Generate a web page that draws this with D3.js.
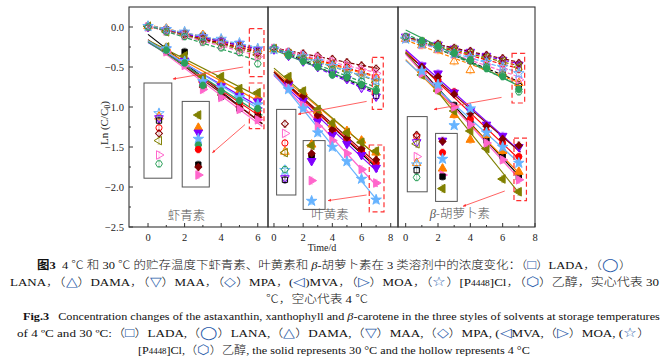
<!DOCTYPE html>
<html><head><meta charset="utf-8">
<script src="https://cdn.jsdelivr.net/npm/d3@7"></script>
<style>body{margin:0;background:#fff;} svg{display:block}</style>
</head><body><svg id="c" width="668" height="359"></svg>
<script>
// ---------------- DATA ----------------
const solvents = ["LADA","LANA","DAMA","MAA","MPA","MVA","MOA","[P4448]Cl","乙醇"];
const pigments = ["虾青素","叶黄素","β-胡萝卜素"];
const yTicks = [0, -0.5, -1, -1.5, -2, -2.5];
const yMinorTicks = [-0.25, -0.75, -1.25, -1.75, -2.25];
const xTicksP1 = [0, 2, 4, 6];
const xTicksP23 = [0, 2, 4, 6, 8];
const daysColdP1 = [0, 1, 2, 3, 4, 5, 6];
const daysWarmP1 = [1, 2, 3, 4, 5, 6];
const daysCold = [0, 1, 2, 3, 4, 5, 6, 7];
const daysWarm = [1, 2, 3, 4, 5, 6, 7];

// rows in solvent order: LADA, LANA, DAMA, MAA, MPA, MVA, MOA, [P4448]Cl, 乙醇
// astaxanthin 4 °C (hollow)
const astaCold = [
  [0.01,-0.03,-0.08,-0.11,-0.17,-0.23,-0.30],
  [0.00,-0.05,-0.09,-0.14,-0.19,-0.24,-0.32],
  [0.01,-0.02,-0.07,-0.10,-0.16,-0.22,-0.28],
  [0.00,-0.04,-0.08,-0.13,-0.18,-0.21,-0.29],
  [0.00,-0.04,-0.10,-0.15,-0.20,-0.25,-0.33],
  [0.01,-0.06,-0.09,-0.16,-0.21,-0.27,-0.35],
  [0.00,-0.05,-0.11,-0.18,-0.23,-0.29,-0.37],
  [0.01,-0.03,-0.06,-0.12,-0.15,-0.20,-0.27],
  [0.00,-0.06,-0.12,-0.19,-0.26,-0.32,-0.46]
];
// astaxanthin 30 °C (solid)
const astaWarm = [
  [-0.30,-0.31,-0.72,-0.87,-1.02,-1.10],
  [-0.30,-0.44,-0.72,-0.82,-0.95,-1.05],
  [-0.26,-0.40,-0.66,-0.68,-0.80,-0.88],
  [-0.28,-0.42,-0.70,-0.74,-0.86,-0.93],
  [-0.29,-0.46,-0.75,-0.85,-1.00,-1.12],
  [-0.25,-0.36,-0.62,-0.62,-0.77,-0.82],
  [-0.31,-0.48,-0.78,-0.88,-1.03,-1.16],
  [-0.27,-0.43,-0.68,-0.76,-0.88,-0.97],
  [-0.29,-0.45,-0.73,-0.80,-0.92,-1.02]
];
// xanthophyll 4 °C
const xanCold = [
  [-0.28,-0.35,-0.41,-0.48,-0.56,-0.64,-0.73,-0.86],
  [-0.27,-0.31,-0.36,-0.40,-0.46,-0.50,-0.56,-0.63],
  [-0.28,-0.33,-0.36,-0.42,-0.47,-0.52,-0.57,-0.64],
  [-0.28,-0.36,-0.43,-0.50,-0.58,-0.65,-0.76,-0.87],
  [-0.26,-0.31,-0.33,-0.36,-0.40,-0.44,-0.48,-0.52],
  [-0.27,-0.33,-0.38,-0.43,-0.48,-0.55,-0.60,-0.69],
  [-0.27,-0.32,-0.35,-0.38,-0.43,-0.48,-0.53,-0.58],
  [-0.28,-0.33,-0.37,-0.43,-0.49,-0.54,-0.61,-0.67],
  [-0.27,-0.34,-0.40,-0.46,-0.53,-0.60,-0.68,-0.78]
];
// xanthophyll 30 °C
const xanWarm = [
  [-0.68,-0.88,-1.14,-1.31,-1.42,-1.56,-1.72],
  [-0.70,-0.90,-1.12,-1.30,-1.40,-1.55,-1.70],
  [-0.65,-0.82,-1.05,-1.22,-1.30,-1.42,-1.57],
  [-0.72,-0.92,-1.18,-1.35,-1.46,-1.60,-1.76],
  [-0.68,-0.86,-1.10,-1.28,-1.38,-1.52,-1.66],
  [-0.62,-0.80,-1.03,-1.20,-1.32,-1.44,-1.55],
  [-0.76,-0.98,-1.24,-1.42,-1.58,-1.78,-1.95],
  [-0.78,-1.02,-1.32,-1.50,-1.68,-1.90,-2.16],
  [-0.36,-0.43,-0.50,-0.60,-0.63,-0.72,-0.80]
];
// beta-carotene 4 °C
const carCold = [
  [-0.13,-0.21,-0.27,-0.34,-0.42,-0.49,-0.57,-0.74],
  [-0.14,-0.20,-0.24,-0.30,-0.35,-0.41,-0.46,-0.53],
  [-0.15,-0.23,-0.29,-0.43,-0.54,-0.50,-0.58,-0.70],
  [-0.12,-0.19,-0.22,-0.27,-0.31,-0.36,-0.41,-0.47],
  [-0.13,-0.18,-0.21,-0.26,-0.30,-0.35,-0.39,-0.45],
  [-0.14,-0.19,-0.23,-0.28,-0.33,-0.38,-0.43,-0.50],
  [-0.14,-0.22,-0.27,-0.34,-0.40,-0.47,-0.53,-0.66],
  [-0.15,-0.21,-0.26,-0.33,-0.38,-0.44,-0.50,-0.58],
  [-0.12,-0.20,-0.26,-0.33,-0.42,-0.50,-0.60,-0.81]
];
// beta-carotene 30 °C
const carWarm = [
  [-0.56,-0.76,-0.98,-1.20,-1.42,-1.62,-1.88],
  [-0.52,-0.66,-0.81,-1.15,-1.30,-1.45,-1.62],
  [-0.54,-0.75,-1.10,-1.41,-1.35,-1.55,-1.81],
  [-0.48,-0.58,-0.82,-1.05,-1.22,-1.36,-1.50],
  [-0.50,-0.62,-0.84,-1.08,-1.24,-1.40,-1.48],
  [-0.60,-0.80,-1.05,-1.30,-1.52,-1.90,-2.06],
  [-0.58,-0.78,-1.00,-1.22,-1.45,-1.66,-1.91],
  [-0.55,-0.72,-1.23,-1.02,-1.32,-1.50,-1.70],
  [-0.17,-0.24,-0.32,-0.41,-0.52,-0.62,-0.78]
];
// magnified inset views: [solvent index, displayed value]
const insetColdP1 = [[7,-1.08],[2,-1.12],[3,-1.14],[0,-1.17],[1,-1.26],[4,-1.33],[5,-1.42],[6,-1.60],[8,-1.71]];
const insetWarmP1 = [[5,-1.10],[2,-1.26],[3,-1.32],[7,-1.40],[8,-1.475],[1,-1.53],[0,-1.72],[4,-1.75],[6,-1.85]];
const insetColdP2 = [[4,-1.21],[6,-1.33],[1,-1.45],[2,-1.56],[5,-1.57],[7,-1.79],[8,-1.78],[3,-1.89],[0,-1.91]];
const insetWarmP2 = [[2,-1.47],[5,-1.48],[1,-1.60],[0,-1.62],[4,-1.58],[3,-1.675],[6,-1.92],[7,-2.175]];
const insetColdP3 = [[1,-1.37],[4,-1.35],[3,-1.44],[5,-1.46],[6,-1.62],[2,-1.70],[7,-1.72],[0,-1.79],[8,-1.88]];
const insetWarmP3 = [[3,-1.42],[4,-1.43],[1,-1.57],[7,-1.65],[2,-1.77],[6,-1.85],[0,-1.87],[5,-2.02]];

// ---------------- STYLE / LAYOUT ----------------
const colors = ["#000000","#ff0000","#ff8000","#8000ff","#800000","#808000","#ff66cc","#66b3ff","#2ca05a"];
const shapes = ["square","circle","up","down","diamond","left","right","star","hexagon"];
const errHalf = 0.045;
const panelsLayout = [
  {x0:129, x1:268, domain:[-1.04, 6.56], fitEnd:[6.0, 6.25], ticks:xTicksP1, minor:[1,3,5],
   cold:astaCold, warm:astaWarm, dCold:daysColdP1, dWarm:daysWarmP1,
   insets:[{box:[-0.22,1.30,-0.70,-1.89], x:0.6, filled:false, items:insetColdP1},
           {box:[1.87,3.35,-0.93,-2.00], x:2.75, filled:true, items:insetWarmP1}],
   red:[[5.54,6.34,-0.02,-0.62],[5.54,6.34,-0.70,-1.27]],
   arrows:[[5.2,-0.50,1.38,-0.65],[5.3,-1.22,3.53,-1.57]],
   label:[2.1,-2.41]},
  {x0:268, x1:398, domain:[-0.41, 8.5], fitEnd:[7.1, 7.1], ticks:xTicksP23, minor:[1,3,5,7],
   cold:xanCold, warm:xanWarm, dCold:daysCold, dWarm:daysWarm,
   insets:[{box:[0.18,1.50,-1.03,-2.10], x:0.75, filled:false, items:insetColdP2},
           {box:[2.00,3.50,-1.42,-2.28], x:2.58, filled:true, items:insetWarmP2}],
   red:[[6.74,7.49,-0.38,-1.03],[6.53,7.54,-1.475,-2.31]],
   arrows:[[6.35,-0.93,1.67,-1.09],[6.35,-2.10,3.72,-2.17]],
   label:[3.84,-2.40]},
  {x0:398, x1:535, domain:[-0.475, 8.0], fitEnd:[7.1, 7.1], ticks:xTicksP23, minor:[1,3,5,7],
   cold:carCold, warm:carWarm, dCold:daysCold, dWarm:daysWarm,
   insets:[{box:[0.10,1.33,-1.12,-2.06], x:0.68, filled:false, items:insetColdP3},
           {box:[1.85,3.19,-1.33,-2.18], x:2.28, filled:true, items:insetWarmP3}],
   red:[[6.58,7.36,-0.33,-0.95],[6.70,7.47,-1.39,-2.17]],
   arrows:[[5.93,-0.88,1.77,-1.03],[6.13,-2.05,3.56,-2.24]],
   label:[3.35,-2.39]}
];

const svg = d3.select("#c");
const y = d3.scaleLinear().domain([-2.5, 0.25]).range([227, 7]);
const serif = "'Liberation Serif','Noto Sans CJK SC',serif";

svg.append("defs").append("marker").attr("id","ah").attr("viewBox","0 0 10 10")
  .attr("refX",8).attr("refY",5).attr("markerWidth",4).attr("markerHeight",4).attr("orient","auto")
  .append("path").attr("d","M0,1 L10,5 L0,9 Z").attr("fill","#ff3030");

const symbolHexagon = { draw(ctx, size){ const r = Math.sqrt(2*size/(3*Math.sqrt(3)));
  for(let k=0;k<6;k++){ const a = Math.PI/3*k; const px=r*Math.cos(a), py=r*Math.sin(a); k?ctx.lineTo(px,py):ctx.moveTo(px,py);} ctx.closePath(); } };
function shapePath(s){
  switch(s){
    case "square": return [d3.symbol(d3.symbolSquare, 28)(), 0];
    case "circle": return [d3.symbol(d3.symbolCircle, 30)(), 0];
    case "up": return [d3.symbol(d3.symbolTriangle, 32)(), 0];
    case "down": return [d3.symbol(d3.symbolTriangle, 32)(), 180];
    case "left": return [d3.symbol(d3.symbolTriangle, 32)(), -90];
    case "right": return [d3.symbol(d3.symbolTriangle, 32)(), 90];
    case "diamond": return [d3.symbol(d3.symbolSquare, 24)(), 45];
    case "star": return [d3.symbol(d3.symbolStar, 34)(), 0];
    case "hexagon": return [d3.symbol(symbolHexagon, 30)(), 0];
  }
}
function drawMarker(g, si, filled, px, py){
  const [d, rot] = shapePath(shapes[si]);
  g.append("path").attr("d", d).attr("transform", `translate(${px},${py}) rotate(${rot})`)
    .attr("fill", filled ? colors[si] : "none").attr("stroke", colors[si]).attr("stroke-width", 1);
}
function drawErr(g, si, px, yv){
  const a = y(yv+errHalf), b = y(yv-errHalf);
  g.append("path").attr("d",`M${px},${a}V${b}M${px-1.5},${a}H${px+1.5}M${px-1.5},${b}H${px+1.5}`)
    .attr("stroke", colors[si]).attr("stroke-opacity",0.45).attr("stroke-width",0.8).attr("fill","none");
}
function fit(xs, ys){
  const mx = d3.mean(xs), my = d3.mean(ys);
  let sxy=0, sxx=0; xs.forEach((v,i)=>{sxy+=(v-mx)*(ys[i]-my); sxx+=(v-mx)*(v-mx);});
  const k = sxy/sxx; return [k, my-k*mx];
}

panelsLayout.forEach((P, pi) => {
  const x = d3.scaleLinear().domain(P.domain).range([P.x0, P.x1]);
  const g = svg.append("g");
  [["cold", P.dCold, "4,2", P.fitEnd[0]], ["warm", P.dWarm, null, P.fitEnd[1]]].forEach(([key, days, dash, tEnd]) => {
    P[key].forEach((vals, si) => {
      const [k, b] = fit(days, vals);
      g.append("line").attr("x1", x(0)).attr("y1", y(b)).attr("x2", x(tEnd)).attr("y2", y(b+k*tEnd))
        .attr("stroke", colors[si]).attr("stroke-width", 1.2).attr("stroke-dasharray", dash);
    });
  });
  [["cold", P.dCold, false], ["warm", P.dWarm, true]].forEach(([key, days, filled]) => {
    P[key].forEach((vals, si) => {
      vals.forEach((v, i) => drawErr(g, si, x(days[i]), v));
      vals.forEach((v, i) => drawMarker(g, si, filled, x(days[i]), y(v)));
    });
  });
  P.insets.forEach(ins => {
    g.append("rect").attr("x", x(ins.box[0])).attr("y", y(ins.box[2]))
      .attr("width", x(ins.box[1])-x(ins.box[0])).attr("height", y(ins.box[3])-y(ins.box[2]))
      .attr("fill","none").attr("stroke","#555").attr("stroke-width",1);
    ins.items.forEach(([si, v]) => drawErr(g, si, x(ins.x), v));
    ins.items.forEach(([si, v]) => drawMarker(g, si, ins.filled, x(ins.x), y(v)));
  });
  P.red.forEach(r => g.append("rect").attr("x", x(r[0])).attr("y", y(r[2]))
    .attr("width", x(r[1])-x(r[0])).attr("height", y(r[3])-y(r[2]))
    .attr("fill","none").attr("stroke","#ff3030").attr("stroke-width",1.2).attr("stroke-dasharray","5,3"));
  P.arrows.forEach(a => g.append("line").attr("x1",x(a[0])).attr("y1",y(a[1])).attr("x2",x(a[2])).attr("y2",y(a[3]))
    .attr("stroke","#ff5050").attr("stroke-width",0.9).attr("marker-end","url(#ah)"));
  g.append("rect").attr("x",P.x0).attr("y",7).attr("width",P.x1-P.x0).attr("height",220)
    .attr("fill","none").attr("stroke","#333").attr("stroke-width",1.1);
  P.ticks.forEach(t => {
    g.append("line").attr("x1",x(t)).attr("x2",x(t)).attr("y1",227).attr("y2",223).attr("stroke","#333");
    g.append("text").attr("x",x(t)).attr("y",241).attr("text-anchor","middle")
      .attr("font-family",serif).attr("font-size",10.5).attr("fill","#222").text(t);
  });
  P.minor.forEach(t => g.append("line").attr("x1",x(t)).attr("x2",x(t)).attr("y1",227).attr("y2",225).attr("stroke","#333"));
  const lt = g.append("text").attr("x",x(P.label[0])).attr("y",y(P.label[1])).attr("text-anchor","middle")
    .attr("font-family","'Noto Sans CJK SC',sans-serif").attr("font-weight",300).attr("font-size",12.5).attr("fill","#555");
  if (pi === 2) { lt.append("tspan").attr("font-style","italic").attr("font-family",serif).text("β"); lt.append("tspan").text("-胡萝卜素"); }
  else lt.text(pigments[pi]);
});

yTicks.forEach(t => {
  svg.append("line").attr("x1",129).attr("x2",133).attr("y1",y(t)).attr("y2",y(t)).attr("stroke","#333");
  svg.append("text").attr("x",124).attr("y",y(t)+3.8).attr("text-anchor","end")
    .attr("font-family",serif).attr("font-size",10.5).attr("fill","#222").text(d3.format(".1f")(t));
});
yMinorTicks.forEach(t => svg.append("line").attr("x1",129).attr("x2",131).attr("y1",y(t)).attr("y2",y(t)).attr("stroke","#333"));
const yt = svg.append("text").attr("transform","translate(108,123) rotate(-90)").attr("text-anchor","middle")
  .attr("font-family",serif).attr("font-size",11).attr("fill","#222");
yt.append("tspan").text("Ln (C/C");
yt.append("tspan").attr("font-size",8).attr("dy",2).text("0");
yt.append("tspan").attr("dy",-2).text(")");
svg.append("text").attr("x",322).attr("y",251).attr("text-anchor","middle")
  .attr("font-family",serif).attr("font-size",10).attr("fill","#222").text("Time/d");

// ---------------- CAPTION ----------------
const captionLines = [
  {x0:37, x1:632, yb:269, segs:[["图3","b"],["  4 ℃ 和 30 ℃ 的贮存温度下虾青素、叶黄素和 ",""],["β","i"],["-胡萝卜素在 3 类溶剂中的浓度变化：（",""],["□","s"],["）LADA，（",""],["◯","s"],["）",""]]},
  {x0:10, x1:660, yb:286, segs:[["LANA，（",""],["△","s"],["）DAMA，（",""],["▽","s"],["）MAA，（",""],["◇","s"],["）MPA，(",""],["◁","s"],[")MVA，（",""],["▷","s"],["）MOA，（",""],["☆","s"],["）[P",""],["4448","sub"],["]Cl，（",""],["⬡","s"],["）乙醇，实心代表 30",""]]},
  {x0:266, x1:368, yb:303, segs:[["℃，空心代表 4 ℃",""]]},
  {x0:23, x1:660, yb:320, segs:[["Fig.3","b"],["   Concentration changes of the astaxanthin, xanthophyll and ",""],["β","i"],["-carotene in the three styles of solvents at storage temperatures",""]]},
  {x0:17, x1:652, yb:337, segs:[["of 4 ºC and 30 ºC:（",""],["□","s"],["）LADA,（",""],["◯","s"],["）LANA,（",""],["△","s"],["）DAMA,（",""],["▽","s"],["）MAA,（",""],["◇","s"],["）MPA, (",""],["◁","s"],["MVA,（",""],["▷","s"],["）MOA, (",""],["☆","s"],["）",""]]},
  {x0:138, x1:530, yb:354, segs:[["[P",""],["4448","sub"],["]Cl,（",""],["⬡","s"],["）乙醇, the solid represents 30 °C and the hollow represents 4 °C",""]]}
];
captionLines.forEach(L => {
  const t = svg.append("text").attr("x",0).attr("y",0).attr("font-family",serif).attr("font-size",11).attr("fill","#111")
    .attr("font-weight",300).attr("xml:space","preserve").style("white-space","pre");
  L.segs.forEach(([s, st]) => {
    const sp = t.append("tspan").text(s);
    if (st==="b") sp.attr("font-weight","bold");
    if (st==="i") sp.attr("font-style","italic");
    if (st==="sub") sp.attr("font-size",8);
    if (st==="s") sp.attr("font-family","'DejaVu Sans',sans-serif").attr("font-size",13).attr("fill","#2a5caa");
  });
  const w = t.node().getBBox().width;
  const sc = (L.x1-L.x0)/w;
  t.attr("transform",`translate(${L.x0},${L.yb}) scale(${sc},1)`);
});
</script></body></html>
